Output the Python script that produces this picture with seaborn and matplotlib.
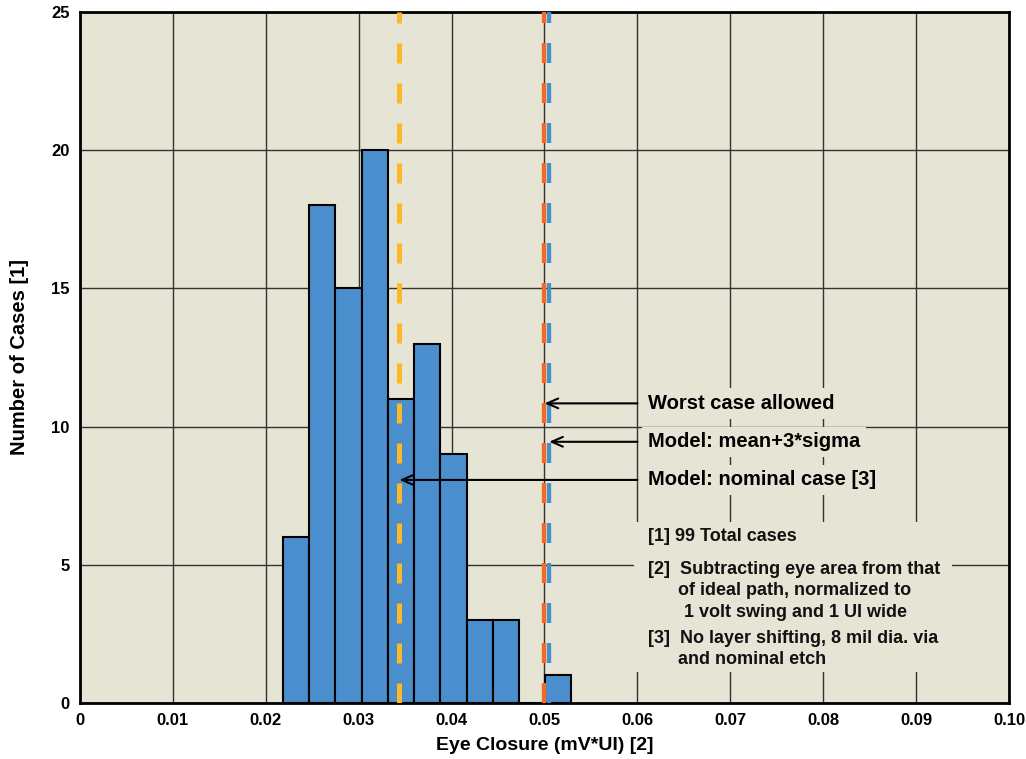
import numpy as np
import pandas as pd
import matplotlib
matplotlib.use("Agg")
import matplotlib.pyplot as plt
from matplotlib.patches import Rectangle
import seaborn as sns

# --- data ---
BIN_EDGES = [0.02185, 0.02466, 0.0275, 0.03033, 0.03317, 0.03597,
             0.03877, 0.04162, 0.04442, 0.04722, 0.05002, 0.05286]
COUNTS = [6, 18, 15, 20, 11, 13, 9, 3, 3, 0, 1]

NOMINAL = 0.0344        # Model: nominal case [3]
WORST_ALLOWED = 0.0500  # Worst case allowed
MEAN_3SIGMA = 0.0505    # Model: mean+3*sigma

X_TICKS = [0, 0.01, 0.02, 0.03, 0.04, 0.05, 0.06, 0.07, 0.08, 0.09, 0.10]
X_TICKLABELS = ["0", "0.01", "0.02", "0.03", "0.04", "0.05",
                "0.06", "0.07", "0.08", "0.09", "0.10"]
Y_TICKS = [0, 5, 10, 15, 20, 25]

# colours
BG = "#E6E4D4"
BAR = "#4A8ECE"
YELLOW = "#FCB827"
ORANGE = "#F26B21"

plt.rcParams["font.family"] = ["Liberation Sans", "DejaVu Sans"]
plt.rcParams["font.weight"] = "bold"

centers = [(a + b) / 2 for a, b in zip(BIN_EDGES[:-1], BIN_EDGES[1:])]
df = pd.DataFrame({"closure": centers, "count": COUNTS})

fig = plt.figure(figsize=(10.26, 7.59), dpi=100)
ax = fig.add_axes([0.0775, 0.0738, 0.9064, 0.9104])
ax.set_facecolor(BG)

sns.histplot(data=df, x="closure", weights="count", bins=BIN_EDGES,
             color=BAR, alpha=1, edgecolor="black", linewidth=1.5, ax=ax)

# reference lines (dashes start at the bottom)
for xv, col, lw in [(NOMINAL, YELLOW, 3.6), (WORST_ALLOWED, ORANGE, 3.1),
                    (MEAN_3SIGMA, BAR, 3.1)]:
    ln = ax.axvline(xv, color=col, lw=lw, zorder=4)
    ln.set_dashes([14.4 / lw, 14.4 / lw])
    ln.set_dash_capstyle("butt")

ax.set_xlim(0, 0.10)
ax.set_ylim(0, 25)
ax.set_xticks(X_TICKS)
ax.set_xticklabels(X_TICKLABELS)
ax.set_yticks(Y_TICKS)
ax.tick_params(length=0, labelsize=12, pad=7)
for lab in ax.get_xticklabels() + ax.get_yticklabels():
    lab.set_fontweight("bold")

ax.grid(True, color="#333333", lw=1)
ax.set_axisbelow(True)
for sp in ax.spines.values():
    sp.set_linewidth(2)
    sp.set_color("black")

ax.set_xlabel("Eye Closure (mV*UI) [2]", fontsize=14, fontweight="bold", labelpad=7)
ax.set_ylabel("Number of Cases [1]", fontsize=14.5, fontweight="bold", labelpad=16)

# arrows + labels
arrow_kw = dict(arrowstyle="->,head_length=0.8,head_width=0.35", lw=1.5, color="black",
                shrinkA=0, shrinkB=0)
for txt, tip, yv in [("Worst case allowed", WORST_ALLOWED, 10.84),
                     ("Model: mean+3*sigma", MEAN_3SIGMA, 9.45),
                     ("Model: nominal case [3]", NOMINAL, 8.07)]:
    ax.annotate("", xy=(tip, yv), xytext=(0.0600, yv), arrowprops=arrow_kw, zorder=5)
    ax.text(0.0611, yv, txt, fontsize=14.5, fontweight="bold", va="center", ha="left",
            zorder=5, bbox=dict(facecolor=BG, edgecolor="none", pad=4))

# footnotes
ax.add_patch(Rectangle((0.0596, 1.12), 0.0342, 5.43, facecolor=BG, edgecolor="none", zorder=3))
notes = [("[1] 99 Total cases", 0.0611, 6.04),
         ("[2]  Subtracting eye area from that", 0.0611, 4.84),
         ("of ideal path, normalized to", 0.06435, 4.08),
         ("1 volt swing and 1 UI wide", 0.0650, 3.29),
         ("[3]  No layer shifting, 8 mil dia. via", 0.0611, 2.32),
         ("and nominal etch", 0.06435, 1.56)]
for txt, xv, yv in notes:
    ax.text(xv, yv, txt, fontsize=13, fontweight="bold", va="center", ha="left",
            color="#111111", zorder=5)

fig.savefig("out.png", dpi=100)
